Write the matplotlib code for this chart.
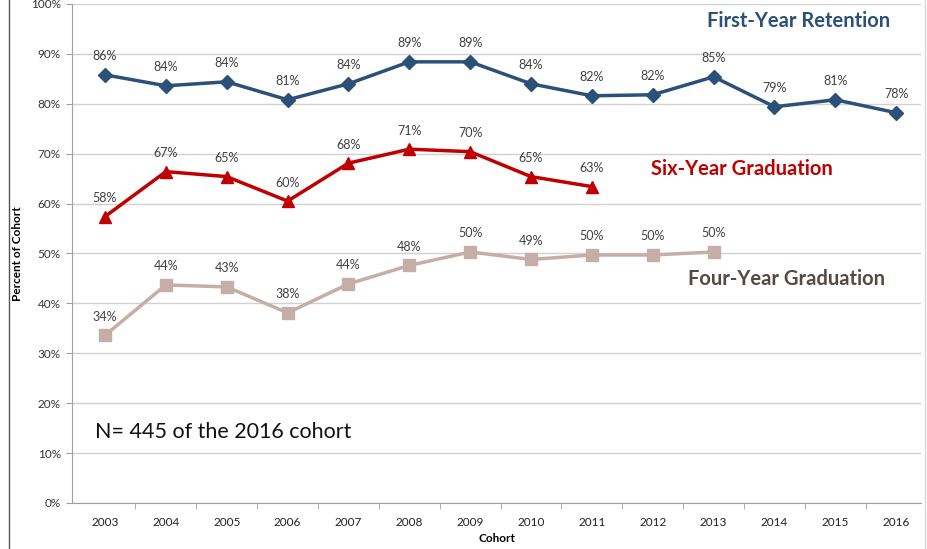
import matplotlib
matplotlib.use("Agg")
import matplotlib.pyplot as plt
from matplotlib.lines import Line2D

plt.rcParams['font.family'] = ['Lato', 'DejaVu Sans']

years = [2003, 2004, 2005, 2006, 2007, 2008, 2009, 2010, 2011, 2012, 2013, 2014, 2015, 2016]
first_year = [85.8, 83.6, 84.4, 80.8, 84.0, 88.4, 88.4, 84.0, 81.6, 81.8, 85.4, 79.4, 80.8, 78.2]
first_year_labels = ["86%", "84%", "84%", "81%", "84%", "89%", "89%", "84%", "82%", "82%", "85%", "79%", "81%", "78%"]
six_year = [57.4, 66.4, 65.4, 60.5, 68.1, 70.9, 70.4, 65.4, 63.4]
six_year_labels = ["58%", "67%", "65%", "60%", "68%", "71%", "70%", "65%", "63%"]
four_year = [33.6, 43.7, 43.3, 38.1, 43.9, 47.6, 50.3, 48.8, 49.7, 49.7, 50.3]
four_year_labels = ["34%", "44%", "43%", "38%", "44%", "48%", "50%", "49%", "50%", "50%", "50%"]
yticks = [0, 10, 20, 30, 40, 50, 60, 70, 80, 90, 100]

c_blue = "#2B5179"
c_red = "#C00000"
c_tan = "#C5AEA7"
c_brown = "#584844"
c_lbl = "#404040"

fig = plt.figure(figsize=(9.27, 5.49), dpi=100)
ax = fig.add_axes([0.0777, 0.0838, 0.916, 0.909])

x = list(range(len(years)))
ax.plot(x, first_year, color=c_blue, lw=2.5, marker="D", ms=7, zorder=3)
ax.plot(x[:len(six_year)], six_year, color=c_red, lw=2.5, marker="^", ms=8, zorder=3)
ax.plot(x[:len(four_year)], four_year, color=c_tan, lw=2.5, marker="s", ms=8, zorder=3)

for xs, ys, ls in [(x, first_year, first_year_labels),
                   (x[:len(six_year)], six_year, six_year_labels),
                   (x[:len(four_year)], four_year, four_year_labels)]:
    for xi, yi, li in zip(xs, ys, ls):
        ax.annotate(li, (xi, yi), xytext=(0, 9), textcoords="offset points",
                    ha="center", va="bottom", fontsize=9, color=c_lbl)

ax.set_xlim(-0.542, 13.41)
ax.set_ylim(0, 100)
ax.set_yticks(yticks)
ax.set_yticklabels([f"{t}%" for t in yticks], fontsize=8.5, color="#333333")
ax.set_xticks(x)
ax.set_xticklabels([str(y) for y in years], fontsize=8.5, color="#222222")
ax.set_xticks([i - 0.5 for i in range(1, len(years))], minor=True)
ax.tick_params(axis="x", which="major", length=0, pad=10)
ax.tick_params(axis="x", which="minor", length=4, color="#A0A0A0", direction="out")
ax.tick_params(axis="y", length=4, color="#A0A0A0", pad=4)
ax.grid(axis="y", color="#D0D0D0", lw=1)
ax.set_axisbelow(True)
for s in ["top", "right"]:
    ax.spines[s].set_visible(False)
ax.spines["left"].set_color("#A0A0A0")
ax.spines["bottom"].set_color("#A0A0A0")

ax.set_ylabel("Percent of Cohort", fontsize=8.5, fontweight="bold", labelpad=6)
ax.set_xlabel("Cohort", fontsize=8.5, fontweight="bold", labelpad=4)

ax.text(11.39, 96.6, "First-Year Retention", color=c_blue, fontsize=14.5, fontweight="bold", ha="center", va="center")
ax.text(10.47, 66.9, "Six-Year Graduation", color=c_red, fontsize=14.5, fontweight="bold", ha="center", va="center")
ax.text(11.19, 44.9, "Four-Year Graduation", color=c_brown, fontsize=14.5, fontweight="bold", ha="center", va="center")
ax.text(-0.16, 14.2, "N= 445 of the 2016 cohort", color="#111111", fontsize=15.5, ha="left", va="center")

fig.add_artist(Line2D([9/927, 9/927], [0, 1], transform=fig.transFigure, color="#555555", lw=1))
fig.add_artist(Line2D([925/927, 925/927], [0, 1], transform=fig.transFigure, color="#D8D8D8", lw=1))

fig.savefig("out.png", dpi=100)
